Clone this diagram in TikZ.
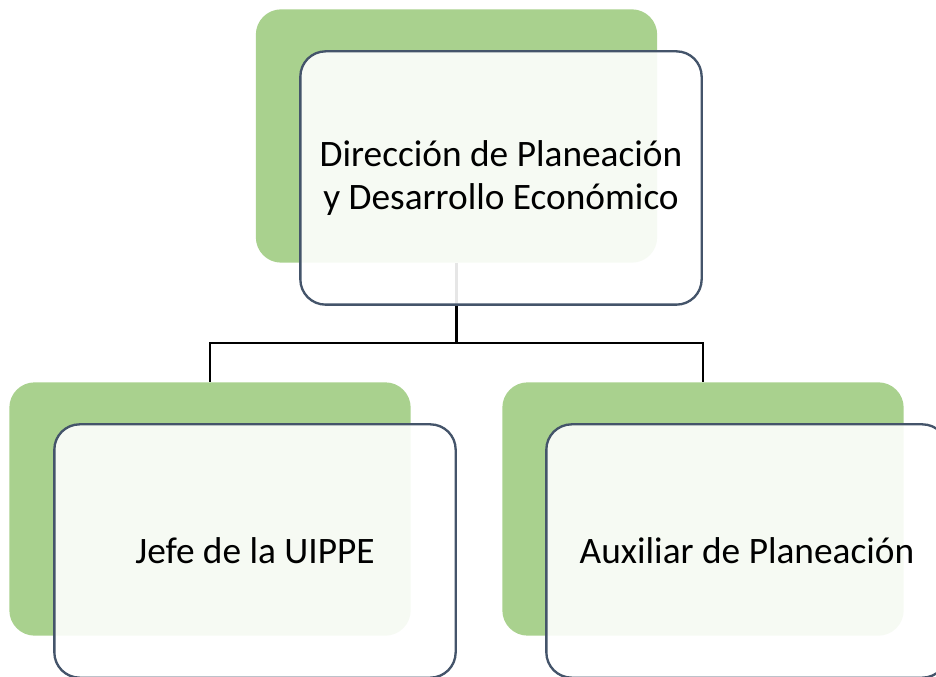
\documentclass[tikz,border=0pt]{standalone}
\usepackage{fontspec}
\setmainfont{Carlito}
\usepackage{tikz}
\definecolor{boxgreen}{HTML}{A9D18E}
\definecolor{boxline}{HTML}{44546A}
\tikzset{
  back/.style = {fill=boxgreen, draw=none, rounded corners=19pt,
    minimum width=301pt, minimum height=190pt},
  front/.style = {fill=white, fill opacity=0.9, text opacity=1,
    draw=boxline, line width=1.75pt, rounded corners=19pt,
    minimum width=301pt, minimum height=190pt, align=center,
    font=\fontsize{28pt}{32pt}\selectfont},
  conn/.style = {draw=black, line width=2pt}
}

\begin{document}
\begin{tikzpicture}[x=0.75pt, y=-0.75pt]
\useasboundingbox (0,0) rectangle (936,677);

\node[back] (dirback) at (456.5, 136) {};
\node[back] (jefeback) at (210, 509) {};
\node[back] (auxback) at (703, 509) {};

\coordinate (split) at (456.5, 343);
\draw[conn] (dirback.south) -- (split) -| (jefeback.north);
\draw[conn] (split) -| (auxback.north);

\node[front] (dir) at (501, 178)
{Dirección de Planeación\\y Desarrollo Económico};
\node[front] (jefe) at (255, 551)
{Jefe de la UIPPE};
\node[front] (aux) at (747, 551)
{Auxiliar de Planeación};

\end{tikzpicture}
\end{document}
